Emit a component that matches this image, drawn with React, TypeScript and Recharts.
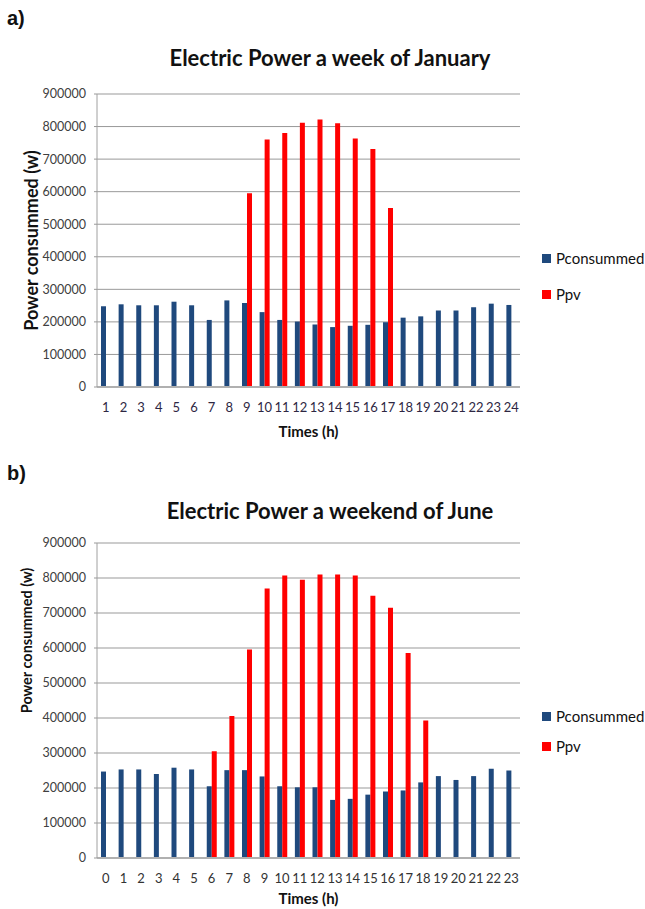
import React from 'react';
import { BarChart, Bar, XAxis, YAxis, CartesianGrid, Legend } from 'recharts';

// hours on the x axis
const hoursJan = Array.from({ length: 24 }, (_, i) => String(i + 1));
const hoursJun = Array.from({ length: 24 }, (_, i) => String(i));

// a) week of January (W)
const consJan = [248000, 254000, 251000, 251000, 262000, 251000, 206000, 266000, 258000, 230000, 206000, 201000,
  192000, 184000, 188000, 191000, 199000, 213000, 217000, 235000, 235000, 245000, 256000, 252000];
const pvJan = [null, null, null, null, null, null, null, null, 595000, 760000, 780000, 812000,
  822000, 810000, 763000, 731000, 550000, null, null, null, null, null, null, null];

// b) weekend of June (W)
const consJun = [247000, 253000, 253000, 240000, 258000, 253000, 205000, 251000, 251000, 233000, 205000, 202000,
  202000, 166000, 169000, 181000, 190000, 193000, 216000, 234000, 223000, 234000, 255000, 250000];
const pvJun = [null, null, null, null, null, null, 305000, 406000, 596000, 770000, 807000, 795000,
  810000, 810000, 807000, 749000, 715000, 586000, 393000, null, null, null, null, null];

const yTicks = [0, 100000, 200000, 300000, 400000, 500000, 600000, 700000, 800000, 900000];

const BLUE = '#1f497d';
const RED = '#ff0000';
const FONT = 'Lato, "Open Sans", sans-serif';

function YTitle(props: any) {
  const { viewBox, text, size, dx, dy } = props;
  const cx = viewBox.x + dx;
  const cy = viewBox.y + viewBox.height / 2 + dy;
  return (
    <text x={cx} y={cy} transform={`rotate(-90 ${cx} ${cy})`} textAnchor="middle" dominantBaseline="central"
      fontWeight="bold" fontSize={size} fill="#111" fontFamily={FONT}>
      {text}
    </text>
  );
}

function LegendBox(props: any) {
  const { payload, gap } = props;
  return (
    <div style={{ fontFamily: FONT, fontSize: 15, color: '#111' }}>
      {(payload || []).map((p: any) => (
        <div key={p.value} style={{ display: 'flex', alignItems: 'center', height: gap }}>
          <span style={{ width: 9, height: 9, background: p.color, marginRight: 5, display: 'inline-block' }} />
          {p.value}
        </div>
      ))}
    </div>
  );
}

interface PanelProps {
  hours: string[];
  cons: (number | null)[];
  pv: (number | null)[];
  top: number;
  height: number;
  margin: { top: number; right: number; bottom: number; left: number };
  xHeight: number;
  xTitleOffset: number;
  yTitleSize: number;
  yTitleDx: number;
  yTitleDy: number;
  xTickColor: string;
  legendTop: number;
  legendGap: number;
}

function Panel(p: PanelProps) {
  const data = p.hours.map((h, i) => ({ hour: h, Pconsummed: p.cons[i], Ppv: p.pv[i] }));
  return (
    <div style={{ position: 'absolute', left: 0, top: p.top }}>
      <BarChart width={645} height={p.height} data={data} margin={p.margin} barGap={0} style={{ fontFamily: FONT }}>
        <CartesianGrid vertical={false} stroke="#999" />
        <XAxis dataKey="hour" height={p.xHeight} tickLine={false} axisLine={{ stroke: '#b0b0b0', strokeWidth: 2 }}
          tick={{ fill: p.xTickColor, fontSize: 13 }} tickMargin={10} interval={0}
          label={{ value: 'Times (h)', position: 'insideBottom', offset: p.xTitleOffset, fontWeight: 'bold', fontSize: 15, fill: '#111' }} />
        <YAxis width={90} domain={[0, 900000]} ticks={yTicks} interval={0} tickSize={3}
          tickLine={{ stroke: '#999' }} axisLine={{ stroke: '#a0a0a0' }} tickMargin={8}
          tick={{ fill: '#404040', fontSize: 12.5 }}
          label={<YTitle text="Power consummed (w)" size={p.yTitleSize} dx={p.yTitleDx} dy={p.yTitleDy} />} />
        <Legend layout="horizontal" verticalAlign="middle" align="center"
          wrapperStyle={{ left: 542, top: p.legendTop, width: 110 }}
          content={<LegendBox gap={p.legendGap} />} />
        <Bar dataKey="Pconsummed" fill={BLUE} barSize={5} isAnimationActive={false} />
        <Bar dataKey="Ppv" fill={RED} barSize={5} isAnimationActive={false} />
      </BarChart>
    </div>
  );
}

const titleStyle: React.CSSProperties = {
  position: 'absolute', left: 0, width: 660, textAlign: 'center', fontFamily: FONT,
  fontWeight: 'bold', fontSize: 22, color: '#111',
};
const tagStyle: React.CSSProperties = {
  position: 'absolute', left: 7, fontFamily: 'Liberation Sans, Arial, sans-serif', fontWeight: 'bold', fontSize: 20, color: '#111',
};

export default function App() {
  return (
    <div style={{ position: 'absolute', left: 0, top: 0, width: 645, height: 909, background: '#fff' }}>
      <div style={{ ...tagStyle, top: 7 }}>a)</div>
      <div style={{ ...titleStyle, top: 44 }}>Electric Power a week of January</div>
      <Panel hours={hoursJan} cons={consJan} pv={pvJan} top={0} height={450}
        margin={{ top: 94, right: 125, bottom: 3, left: 7 }} xHeight={60} xTitleOffset={10}
        yTitleSize={18} yTitleDx={24} yTitleDy={0} xTickColor="#2e2743"
        legendTop={240} legendGap={36} />
      <div style={{ ...tagStyle, top: 462 }}>b)</div>
      <div style={{ ...titleStyle, top: 497 }}>Electric Power a weekend of June</div>
      <Panel hours={hoursJun} cons={consJun} pv={pvJun} top={455} height={454}
        margin={{ top: 88, right: 125, bottom: 1, left: 7 }} xHeight={50} xTitleOffset={4}
        yTitleSize={14.5} yTitleDx={19} yTitleDy={-60} xTickColor="#333"
        legendTop={246} legendGap={30} />
    </div>
  );
}
